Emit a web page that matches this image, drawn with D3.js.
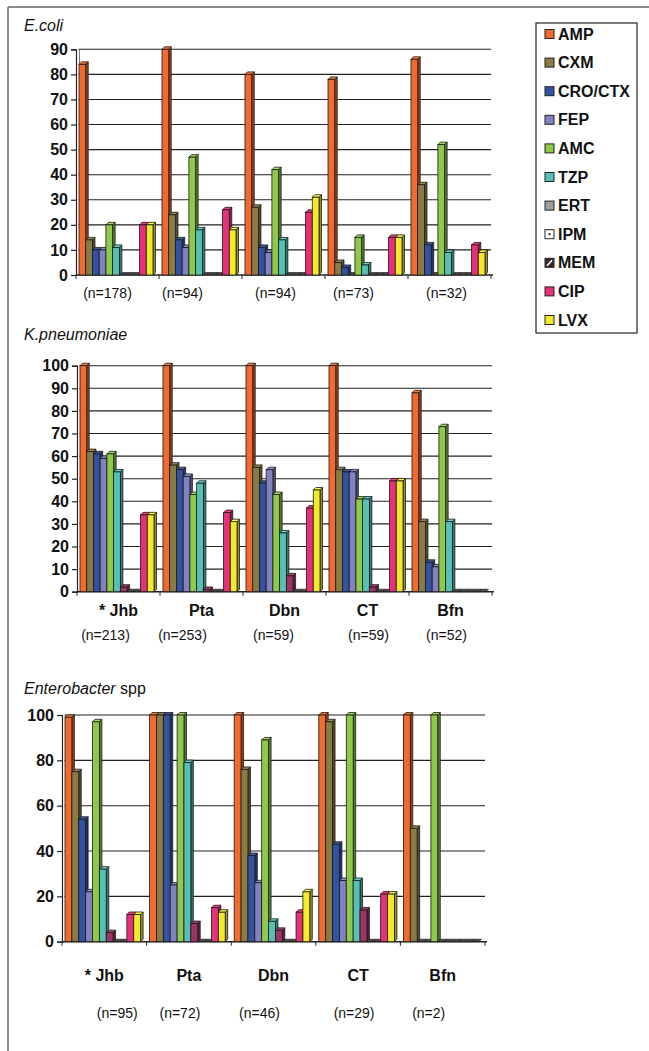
<!DOCTYPE html>
<html>
<head>
<meta charset="utf-8">
<script src="https://cdn.jsdelivr.net/npm/d3@7"></script>
<style>
  body { margin: 0; background: #fff; }
  svg { display: block; }
  text { font-family: "Liberation Sans", Arial, sans-serif; fill: #111; }
</style>
</head>
<body>
<svg id="fig" width="649" height="1051"></svg>
<script>
// ---- data -------------------------------------------------------------
const antibiotics = ["AMP", "CXM", "CRO/CTX", "FEP", "AMC", "TZP", "ERT", "IPM", "MEM", "CIP", "LVX"];
const sites = ["Jhb", "Pta", "Dbn", "CT", "Bfn"];
const siteLabels = ["* Jhb", "Pta", "Dbn", "CT", "Bfn"];

// % resistant, one row per site, columns in antibiotic order
const ecoliResistance = [
  [84, 14, 10, 10, 20, 11, 0, 0, 0, 20, 20],
  [90, 24, 14, 11, 47, 18, 0, 0, 0, 26, 18],
  [80, 27, 11, 9, 42, 14, 0, 0, 0, 25, 31],
  [78, 5, 3, 0, 15, 4, 0, 0, 0, 15, 15],
  [86, 36, 12, 0, 52, 9, 0, 0, 0, 12, 9]
];
const kpneuResistance = [
  [100, 62, 61, 59, 61, 53, 2, 0, 0, 34, 34],
  [100, 56, 54, 51, 43, 48, 1, 0, 0, 35, 31],
  [100, 55, 48, 54, 43, 26, 7, 0, 0, 37, 45],
  [100, 54, 53, 53, 41, 41, 2, 0, 0, 49, 49],
  [88, 31, 13, 11, 73, 31, 0, 0, 0, 0, 0]
];
const enteroResistance = [
  [99, 75, 54, 22, 97, 32, 4, 0, 0, 12, 12],
  [100, 100, 100, 25, 100, 79, 8, 0, 0, 15, 13],
  [100, 76, 38, 26, 89, 9, 5, 0, 0, 13, 22],
  [100, 97, 43, 27, 100, 27, 14, 0, 0, 21, 21],
  [100, 50, 0, 0, 100, 0, 0, 0, 0, 0, 0]
];

const ecoliCounts = ["(n=178)", "(n=94)", "(n=94)", "(n=73)", "(n=32)"];
const kpneuCounts = ["(n=213)", "(n=253)", "(n=59)", "(n=59)", "(n=52)"];
const enteroCounts = ["(n=95)", "(n=72)", "(n=46)", "(n=29)", "(n=2)"];

const ecoliTicks = [0, 10, 20, 30, 40, 50, 60, 70, 80, 90];
const kpneuTicks = [0, 10, 20, 30, 40, 50, 60, 70, 80, 90, 100];
const enteroTicks = [0, 20, 40, 60, 80, 100];

// ---- styles -----------------------------------------------------------
const barColors = ["#f26a2e", "#8a7b45", "#34529f", "#8282c2", "#8fc84a", "#55c1b4",
                   "#9c3466", "#ffffff", "#3a2a30", "#e6307a", "#f4ea2c"];
const swatchColors = ["#f26a2e", "#8a7b45", "#34529f", "#8282c2", "#8fc84a", "#55c1b4",
                      "#a0a0a0", "#ffffff", "#3a2a30", "#e6307a", "#f4ea2c"];

const svg = d3.select("#fig");
const depth = 2.5;

// outer frame
svg.append("line").attr("x1", 8).attr("x2", 649).attr("y1", 7).attr("y2", 7)
  .attr("stroke", "#666").attr("stroke-width", 1.5);
svg.append("line").attr("x1", 8).attr("x2", 8).attr("y1", 7).attr("y2", 1051)
  .attr("stroke", "#666").attr("stroke-width", 1.5);

function drawPanel(cfg) {
  const g = svg.append("g");
  const y = d3.scaleLinear().domain([0, cfg.max]).range([cfg.y0, cfg.yTop]);
  const xs = d3.scaleBand().domain(sites).range([cfg.x0, cfg.x1]);
  const xa = d3.scaleBand().domain(antibiotics).range([3, xs.bandwidth() - 6]);

  // title
  const t = g.append("text").attr("x", 24).attr("y", cfg.titleY)
    .attr("font-size", 16);
  t.append("tspan").attr("font-style", "italic").text(cfg.title);
  if (cfg.titleSuffix) t.append("tspan").text(cfg.titleSuffix);

  // grid lines on the back wall
  g.selectAll("line.grid").data(cfg.ticks.filter(d => d > 0)).join("line")
    .attr("x1", cfg.x0 + depth).attr("x2", cfg.x1)
    .attr("y1", d => y(d)).attr("y2", d => y(d))
    .attr("stroke", "#222").attr("stroke-width", 1.1);
  // back wall edge
  g.append("line").attr("x1", cfg.x0 + depth + 1).attr("x2", cfg.x0 + depth + 1)
    .attr("y1", cfg.yTop).attr("y2", cfg.y0)
    .attr("stroke", "#555").attr("stroke-width", 0.8);

  // y axis
  const axis = g.append("g").attr("transform", `translate(${cfg.x0},0)`)
    .call(d3.axisLeft(y).tickValues(cfg.ticks).tickSize(5).tickPadding(3));
  axis.select(".domain").attr("stroke", "#222").attr("stroke-width", 1.2);
  axis.selectAll(".tick line").attr("stroke", "#222").attr("stroke-width", 1.2);
  axis.selectAll(".tick text").attr("font-size", 16).attr("font-weight", "bold")
    .attr("font-family", "'Liberation Sans', Arial, sans-serif").attr("fill", "#111");

  // floor line and category ticks
  g.append("line").attr("x1", cfg.x0).attr("x2", cfg.x1 + 2)
    .attr("y1", cfg.y0).attr("y2", cfg.y0).attr("stroke", "#222").attr("stroke-width", 1.5);
  g.selectAll("line.ctick").data(d3.range(sites.length + 1)).join("line")
    .attr("x1", i => cfg.x0 + i * xs.step()).attr("x2", i => cfg.x0 + i * xs.step())
    .attr("y1", cfg.y0).attr("y2", cfg.y0 + 4).attr("stroke", "#222").attr("stroke-width", 1);

  // 3-D columns (zero values leave only a flat cap on the floor)
  cfg.values.forEach((row, si) => {
    const gx = xs(sites[si]);
    row.forEach((v, ai) => {
      const x = gx + xa(antibiotics[ai]);
      const w = xa.bandwidth();
      const yt = y(v);
      const base = d3.color(barColors[ai]);
      const side = base.darker(1.3);
      const top = base.brighter(0.3);
      const bar = g.append("g");
      if (v <= 0) {
        bar.append("polygon")
          .attr("points", [[x, yt], [x + depth, yt - depth], [x + w + depth, yt - depth], [x + w, yt]].join(" "))
          .attr("fill", "#444").attr("stroke", "#1a1a1a").attr("stroke-width", 0.6);
        return;
      }
      bar.append("polygon")
        .attr("points", [[x + w, yt], [x + w + depth, yt - depth], [x + w + depth, cfg.y0 - depth], [x + w, cfg.y0]].join(" "))
        .attr("fill", side).attr("stroke", "#1a1a1a").attr("stroke-width", 0.8);
      bar.append("polygon")
        .attr("points", [[x, yt], [x + depth, yt - depth], [x + w + depth, yt - depth], [x + w, yt]].join(" "))
        .attr("fill", top).attr("stroke", "#1a1a1a").attr("stroke-width", 0.8);
      bar.append("rect")
        .attr("x", x).attr("y", yt).attr("width", w).attr("height", cfg.y0 - yt)
        .attr("fill", base).attr("stroke", "#1a1a1a").attr("stroke-width", 0.8);
    });
  });

  // site names
  if (cfg.showSites) {
    g.selectAll("text.site").data(siteLabels).join("text")
      .attr("x", (d, i) => xs(sites[i]) + xs.bandwidth() / 2)
      .attr("y", cfg.siteY).attr("text-anchor", "middle")
      .attr("font-size", 16).attr("font-weight", "bold").text(d => d);
  }
  // sample sizes
  g.selectAll("text.count").data(cfg.counts).join("text")
    .attr("x", (d, i) => xs(sites[i]) + xs.bandwidth() / 2 + cfg.countShift[i])
    .attr("y", cfg.countY).attr("text-anchor", "middle")
    .attr("font-size", 14).text(d => d);
}

drawPanel({
  title: "E.coli", titleY: 31,
  values: ecoliResistance, ticks: ecoliTicks, max: 90,
  x0: 76, x1: 491, y0: 275, yTop: 49.3,
  showSites: false, counts: ecoliCounts, countY: 298,
  countShift: [-10, -18, -8, -13, -3]
});
drawPanel({
  title: "K.pneumoniae", titleY: 340,
  values: kpneuResistance, ticks: kpneuTicks, max: 100,
  x0: 77, x1: 492, y0: 591.7, yTop: 365.7,
  showSites: true, siteY: 616, counts: kpneuCounts, countY: 640,
  countShift: [-13, -19, -11, 1, -4]
});
drawPanel({
  title: "Enterobacter", titleSuffix: " spp", titleY: 694,
  values: enteroResistance, ticks: enteroTicks, max: 100,
  x0: 62, x1: 485, y0: 941.7, yTop: 715,
  showSites: true, siteY: 981, counts: enteroCounts, countY: 1018,
  countShift: [13, -9, -14, -4, -14]
});

// legend
const leg = svg.append("g");
leg.append("rect").attr("x", 536).attr("y", 23).attr("width", 101).attr("height", 310)
  .attr("fill", "#fff").attr("stroke", "#222").attr("stroke-width", 1.2);
const items = leg.selectAll("g.item").data(antibiotics).join("g")
  .attr("transform", (d, i) => `translate(545, ${34 + i * 28.6})`);
items.append("rect").attr("x", 0).attr("y", -4.5).attr("width", 9).attr("height", 9)
  .attr("fill", (d, i) => swatchColors[i]).attr("stroke", "#222").attr("stroke-width", 1);
items.filter(d => d === "IPM").append("rect").attr("x", 3.5).attr("y", -1).attr("width", 2).attr("height", 2).attr("fill", "#222");
items.filter(d => d === "MEM").append("line").attr("x1", 2).attr("y1", 3).attr("x2", 7).attr("y2", -2.5)
  .attr("stroke", "#fff").attr("stroke-width", 1.5);
items.append("text").attr("x", 13).attr("y", 5.5).attr("font-size", 16).attr("font-weight", "bold")
  .text(d => d);
</script>
</body>
</html>
